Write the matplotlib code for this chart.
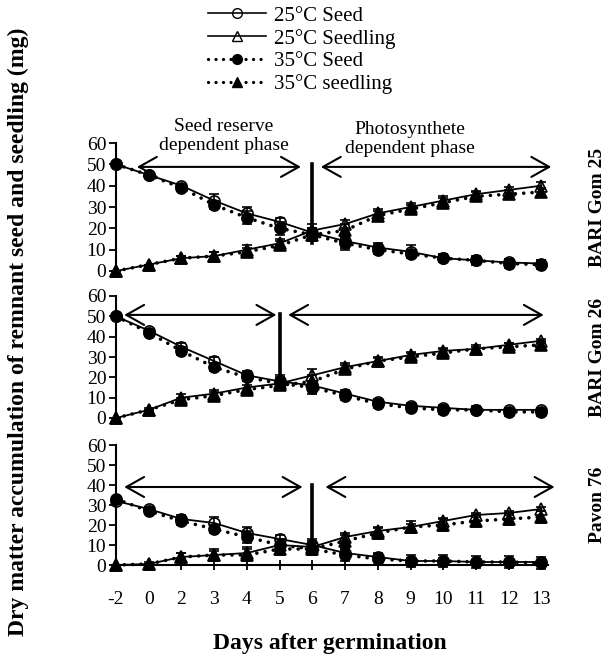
import numpy as np
import matplotlib
matplotlib.use('Agg')
import matplotlib.pyplot as plt
from matplotlib.lines import Line2D

plt.rcParams['font.family'] = ['Liberation Serif', 'DejaVu Serif']

days = ['-2', '0', '2', '3', '4', '5', '6', '7', '8', '9', '10', '11', '12', '13']
varieties = ['BARI Gom 25', 'BARI Gom 26', 'Pavon 76']
series_names = ['25\u00b0C Seed', '25\u00b0C Seedling', '35\u00b0C Seed', '35\u00b0C seedling']

# BARI Gom 25
g25_seed_25 = [50, 45, 40, 33, 27, 23, 18, 14, 11, 9, 6, 5, 4, 3.5]
g25_seed_35 = [50, 45, 39, 31, 25, 20, 17, 13, 10, 8, 6, 5, 3.5, 3]
g25_sdl_25 = [0, 3, 6, 7, 10, 13, 19, 22, 27, 30, 33, 36, 38, 40]
g25_sdl_35 = [0, 3, 6, 7, 9, 12, 17, 19, 26, 29, 32, 35, 36, 37]
g25_err = [[0, 0, 1, 3, 3, 2, 2, 3, 2, 3, 2, 1.5, 1.5, 1.5],
           [0, 0, 1, 2, 2, 2, 3, 2, 2, 2, 2, 1.5, 1.5, 1.5],
           [0, 0, 1, 2, 3, 3, 2, 3, 2, 2, 2, 2, 2, 2],
           [0, 0, 1, 2, 2, 2, 3, 3, 2, 2, 2, 2, 2, 2]]

# BARI Gom 26
g26_seed_25 = [50, 43, 35, 28, 21, 18, 16, 12, 8, 6, 5, 4, 4, 4]
g26_seed_35 = [50, 42, 33, 25, 20, 17, 15, 11, 7, 5, 4, 4, 3, 3]
g26_sdl_25 = [0, 4, 10, 12, 15, 17, 21, 25, 28, 31, 33, 34, 36, 38]
g26_sdl_35 = [0, 4, 9, 11, 14, 16, 18, 24, 28, 30, 32, 34, 35, 36]
g26_err = [[0, 0, 2, 2, 2, 3, 2, 2, 1.5, 1.5, 1.5, 1, 1, 1],
           [0, 1, 2, 2, 3, 3, 3, 2, 1.5, 1.5, 1.5, 1, 1, 1],
           [0, 0, 2, 2, 2, 2, 3, 2, 2, 2, 2, 2, 2, 2],
           [0, 0, 1, 2, 2, 2, 3, 2, 2, 2, 2, 2, 2, 2]]

# Pavon 76
p76_seed_25 = [32, 28, 23, 21, 16, 13, 10, 6, 4, 2, 2, 1.5, 1.5, 1.5]
p76_seed_35 = [33, 27, 22, 18, 14, 10, 8, 5, 3, 2, 2, 1.5, 1.5, 1]
p76_sdl_25 = [0, 0.5, 4, 5, 6, 10, 9, 14, 17, 19, 22, 25, 26, 28]
p76_sdl_35 = [0, 0.5, 4, 5, 5, 8, 8, 12, 16, 19, 20, 22, 23, 24]
p76_err = [[0, 1, 2, 3, 3, 2, 3, 2, 1.5, 1.5, 1.5, 1, 1, 1],
           [0, 1, 2, 3, 3, 3, 3, 2, 1.5, 1.5, 1.5, 1, 1, 1],
           [0, 0, 2, 2, 3, 3, 3, 3, 3, 3, 3, 3, 3, 3],
           [0, 0, 2, 2, 3, 3, 3, 3, 3, 3, 3, 3, 3, 3]]

# phase boundary day index for each variety
phase_split = [6, 5, 6]

panels = [
    (g25_seed_25, g25_sdl_25, g25_seed_35, g25_sdl_35, g25_err),
    (g26_seed_25, g26_sdl_25, g26_seed_35, g26_sdl_35, g26_err),
    (p76_seed_25, p76_sdl_25, p76_seed_35, p76_sdl_35, p76_err),
]

W, H = 613, 657
fig = plt.figure(figsize=(W / 100, H / 100), dpi=100)
fig.patch.set_facecolor('white')

def px(x0, top, x1, bottom):
    return [x0 / W, 1 - bottom / H, (x1 - x0) / W, (bottom - top) / H]

rects = [px(116, 143, 548, 271), px(116, 296, 548, 418), px(116, 445, 548, 565)]

dots = (0, (0.01, 2.3))   # round dots
# marker / line styles for the four series
styles = [
    dict(ls='-', lw=1.3, marker='o', mfc='none', ms=8),
    dict(ls='-', lw=1.3, marker='^', mfc='none', ms=8),
    dict(ls=dots, lw=2.6, marker='o', mfc='k', ms=8),
    dict(ls=dots, lw=2.6, marker='^', mfc='k', ms=8),
]

# arrow layouts: (left start, left end, right start, right end, y, vline bottom, vline top)
arrows = [
    (0.64, 5.65, 6.26, 13.3, 48.8, 13, 50),
    (0.25, 4.9, 5.26, 13.07, 50.7, 15, 51),
    (0.25, 5.7, 6.4, 13.4, 39, 7, 40),
]

x = np.arange(len(days))
axes = []
for k, (s25, d25, s35, d35, err) in enumerate(panels):
    ax = fig.add_axes(rects[k])
    axes.append(ax)
    for j, vals in enumerate([s25, d25, s35, d35]):
        st = styles[j]
        ax.errorbar(x, vals, yerr=err[j], color='k', ecolor='k', elinewidth=1.2,
                    capsize=3.5, capthick=1.2, ls=st['ls'], lw=st['lw'],
                    marker=st['marker'], mfc=st['mfc'], mec='k', ms=st['ms'],
                    mew=1.2, clip_on=False, dash_capstyle='round')
    ax.set_xlim(0, 13.2)
    ax.set_ylim(0, 60)
    ax.set_yticks(range(0, 61, 10))
    ax.tick_params(axis='y', direction='out', length=5, width=1.3, labelsize=14, pad=2)
    for sp in ['top', 'right']:
        ax.spines[sp].set_visible(False)
    ax.spines['left'].set_linewidth(1.5)
    if k < 2:
        ax.spines['bottom'].set_visible(False)
        ax.set_xticks([])
    else:
        ax.spines['bottom'].set_linewidth(1.5)
        ax.set_xticks(x)
        ax.set_xticklabels(days)
        ax.tick_params(axis='x', direction='inout', length=7, width=1.3, labelsize=14, pad=15)

    l0, l1, r0, r1, ya, vb, vt = arrows[k]
    aprops = dict(arrowstyle='<->,head_length=0.8,head_width=0.45', lw=1.5,
                  color='k', shrinkA=0, shrinkB=0, mutation_scale=16)
    ax.annotate('', xy=(l1, ya), xytext=(l0, ya), arrowprops=aprops, annotation_clip=False)
    ax.annotate('', xy=(r1, ya), xytext=(r0, ya), arrowprops=aprops, annotation_clip=False)
    ax.plot([phase_split[k]] * 2, [vb, vt], color='k', lw=2.6, clip_on=False)

    cy = (rects[k][1] + rects[k][3] / 2)
    fig.text(0.975, cy, varieties[k], rotation=90, ha='center', va='center',
             fontsize=14, fontweight='bold')

# phase labels
fig.text(224 / W, 1 - 136 / H, 'Seed reserve\ndependent phase', ha='center',
         va='center', fontsize=14, linespacing=1.1)
fig.text(410 / W, 1 - 139 / H, 'Photosynthete\ndependent phase', ha='center',
         va='center', fontsize=14, linespacing=1.1)

# axis labels
fig.text(18 / W, 1 - 332 / H, 'Dry matter accumulation of remnant seed and seedling (mg)',
         rotation=90, ha='center', va='center', fontsize=17, fontweight='bold')
fig.text(330 / W, 1 - 643 / H, 'Days after germination', ha='center', va='center',
         fontsize=17, fontweight='bold')

# legend
handles = []
for j in range(4):
    st = styles[j]
    handles.append(Line2D([], [], color='k', ls=st['ls'], lw=st['lw'] * 0.9,
                          marker=st['marker'], mfc=st['mfc'], mec='k', ms=7,
                          dash_capstyle='round'))
fig.legend(handles, series_names, loc='upper left', bbox_to_anchor=(208 / W, 1 - 6 / H),
           frameon=False, fontsize=15, handlelength=2.8, handletextpad=0.35,
           labelspacing=0.15, borderpad=0, borderaxespad=0)

fig.savefig('out.png', dpi=100)
